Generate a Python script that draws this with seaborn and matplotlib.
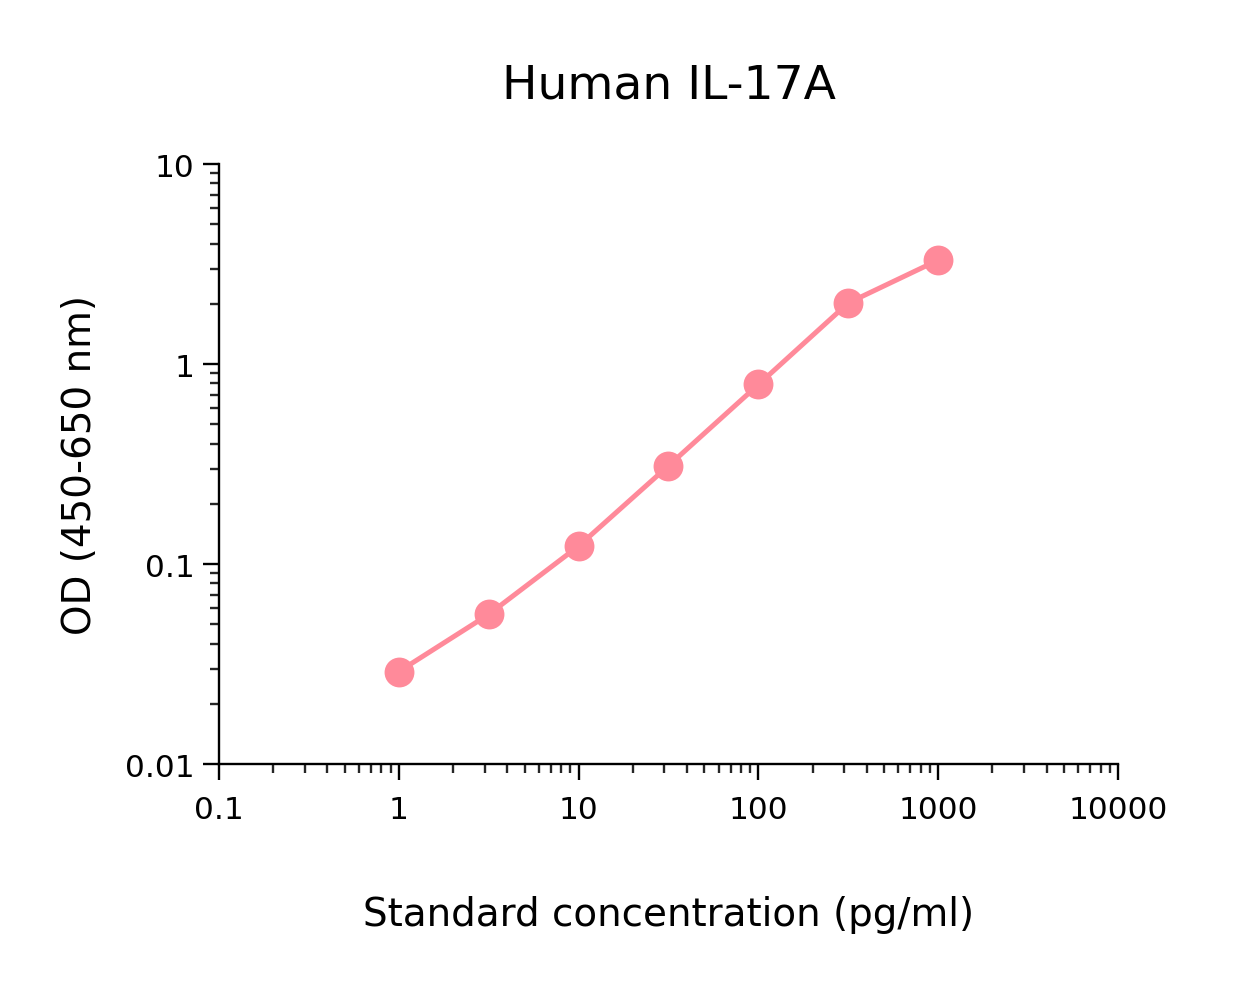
import numpy as np
import pandas as pd
import matplotlib
matplotlib.use("Agg")
import matplotlib.pyplot as plt
import seaborn as sns
from matplotlib.ticker import LogLocator, FixedLocator, FixedFormatter, NullFormatter

# Standardkurve Human IL-17A
conc = [1, 3.16, 10, 31.6, 100, 316, 1000]
od = [0.029, 0.056, 0.123, 0.31, 0.79, 2.02, 3.31]

x_ticks = [0.1, 1, 10, 100, 1000, 10000]
x_labels = ["0.1", "1", "10", "100", "1000", "10000"]
y_ticks = [0.01, 0.1, 1, 10]
y_labels = ["0.01", "0.1", "1", "10"]

df = pd.DataFrame({"conc": conc, "od": od})

sns.set_style("ticks")
plt.rcParams["font.family"] = ["DejaVu Sans"]
plt.rcParams["text.color"] = "black"
plt.rcParams["axes.labelcolor"] = "black"

fig = plt.figure(figsize=(12.43, 9.87), dpi=100)
ax = fig.add_axes([0.1762, 0.2249, 0.7233, 0.6079])

pink = "#FF8A9A"
sns.lineplot(data=df, x="conc", y="od", ax=ax, color=pink, linewidth=3.6,
             marker="o", markersize=21.5, markeredgewidth=0, markerfacecolor=pink)

ax.set_xscale("log")
ax.set_yscale("log")
ax.set_xlim(0.1, 10000)
ax.set_ylim(0.01, 10)

ax.xaxis.set_major_locator(FixedLocator(x_ticks))
ax.xaxis.set_major_formatter(FixedFormatter(x_labels))
ax.yaxis.set_major_locator(FixedLocator(y_ticks))
ax.yaxis.set_major_formatter(FixedFormatter(y_labels))
ax.xaxis.set_minor_locator(LogLocator(base=10, subs=np.arange(2, 10), numticks=20))
ax.yaxis.set_minor_locator(LogLocator(base=10, subs=np.arange(2, 10), numticks=20))
ax.xaxis.set_minor_formatter(NullFormatter())
ax.yaxis.set_minor_formatter(NullFormatter())

ax.tick_params(which="major", direction="out", length=11.5, width=1.7, labelsize=22.5, colors="black")
ax.tick_params(axis="x", which="major", pad=11)
ax.tick_params(axis="y", which="major", pad=6)
ax.tick_params(which="minor", direction="out", length=6.5, width=1.7)

for side in ["top", "right"]:
    ax.spines[side].set_visible(False)
for side in ["left", "bottom"]:
    ax.spines[side].set_linewidth(1.7)
    ax.spines[side].set_color("black")

ax.set_title("Human IL-17A", fontsize=34, pad=48)
ax.set_xlabel("Standard concentration (pg/ml)", fontsize=28)
ax.set_ylabel("OD (450-650 nm)", fontsize=28)
ax.xaxis.set_label_coords(0.5, -0.218)
ax.yaxis.set_label_coords(-0.134, 0.5)

fig.savefig("out.png", dpi=100, facecolor="white")
